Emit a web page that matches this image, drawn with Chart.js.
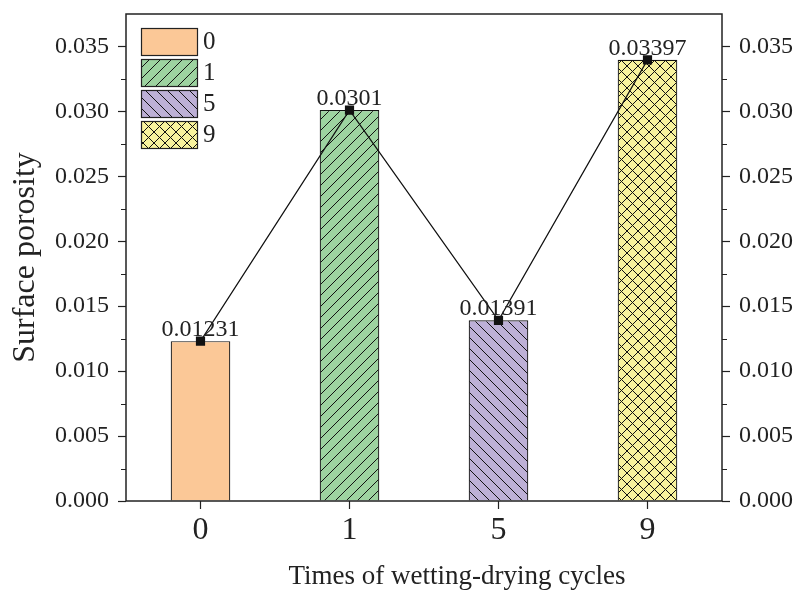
<!DOCTYPE html>
<html>
<head>
    <title>Surface porosity</title>
    <script src="https://cdn.jsdelivr.net/npm/chart.js"></script>
    <style>
        body { margin: 0; background: #fff; }
        #wrap { width: 796px; height: 590px; }
    </style>
</head>
<body>
    <div id="wrap"><canvas id="myChart"></canvas></div>
    <script>
        const cycles = ['0', '1', '5', '9'];
        const porosity = [0.01231, 0.0301, 0.01391, 0.03397];
        const majorTicks = [0, 0.005, 0.010, 0.015, 0.020, 0.025, 0.030, 0.035];
        const minorTicks = [0.0025, 0.0075, 0.0125, 0.0175, 0.0225, 0.0275, 0.0325];
        const fills = ['#fbc897', '#9dd3a0', '#bdb0d6', '#f8f39d'];
        const hatches = ['none', 'fwd', 'back', 'cross'];

        const FONT = '"Liberation Serif", "Times New Roman", Times, serif';
        const INK = '#222';

        // small repeating tile for the bar hatching
        function makePattern(color, kind) {
            const s = 11;
            const c = document.createElement('canvas');
            c.width = s; c.height = s;
            const g = c.getContext('2d');
            g.fillStyle = color;
            g.fillRect(0, 0, s, s);
            if (kind === 'none') return g.createPattern(c, 'repeat');
            g.strokeStyle = '#111';
            g.lineWidth = 1;
            g.beginPath();
            if (kind === 'fwd' || kind === 'cross') {
                g.moveTo(-1, s + 1); g.lineTo(s + 1, -1);
            }
            if (kind === 'back' || kind === 'cross') {
                g.moveTo(-1, -1); g.lineTo(s + 1, s + 1);
            }
            g.stroke();
            return g.createPattern(c, 'repeat');
        }
        const patterns = fills.map((f, i) => makePattern(f, hatches[i]));

        const framePlugin = {
            id: 'frame',
            afterDraw(chart) {
                const ctx = chart.ctx;
                const a = chart.chartArea;
                const y = chart.scales.y;
                ctx.save();
                // plot border
                ctx.strokeStyle = INK;
                ctx.lineWidth = 1.5;
                ctx.strokeRect(a.left, a.top, a.right - a.left, a.bottom - a.top);
                // minor ticks on both sides
                ctx.lineWidth = 1.2;
                ctx.beginPath();
                minorTicks.forEach(v => {
                    const py = Math.round(y.getPixelForValue(v)) + 0.5;
                    ctx.moveTo(a.left - 5, py); ctx.lineTo(a.left, py);
                    ctx.moveTo(a.right, py); ctx.lineTo(a.right + 5, py);
                });
                ctx.stroke();

                // value labels above the line points
                const meta = chart.getDatasetMeta(1);
                ctx.fillStyle = INK;
                ctx.font = '24px ' + FONT;
                ctx.textAlign = 'center';
                ctx.textBaseline = 'alphabetic';
                meta.data.forEach((pt, i) => {
                    ctx.fillText(String(porosity[i]), pt.x, pt.y - 5);
                });

                // legend inside the plot
                const lx = 141, bw = 56, bh = 27;
                const ly = [28, 59, 90, 121];
                ctx.font = '25px ' + FONT;
                ctx.textAlign = 'left';
                ctx.textBaseline = 'middle';
                cycles.forEach((c, i) => {
                    ctx.fillStyle = patterns[i];
                    ctx.fillRect(lx, ly[i], bw, bh);
                    ctx.strokeStyle = INK;
                    ctx.lineWidth = 1.2;
                    ctx.strokeRect(lx + 0.5, ly[i] + 0.5, bw, bh);
                    ctx.fillStyle = INK;
                    ctx.fillText(c, lx + bw + 6, ly[i] + bh / 2 + 1);
                });

                // x axis title
                ctx.font = '27px ' + FONT;
                ctx.textAlign = 'center';
                ctx.textBaseline = 'alphabetic';
                ctx.fillText('Times of wetting-drying cycles', 457, 584);
                ctx.restore();
            }
        };

        const yTicks = {
            color: INK,
            font: { family: FONT, size: 24 },
            padding: 9,
            callback: v => Number(v).toFixed(3)
        };
        const setTicks = scale => {
            scale.ticks = majorTicks.map(v => ({ value: v }));
        };
        const tickGrid = {
            drawOnChartArea: false,
            offset: false,
            tickLength: 8,
            tickColor: INK,
            tickWidth: 1.2
        };
        // fixed box sizes so the plot area lands where it should
        const fixBox = (w, h) => s => {
            if (w) s.width = w;
            if (h) s.height = h;
            s.paddingTop = 0; s.paddingBottom = 0;
            s.paddingLeft = 0; s.paddingRight = 0;
        };

        function drawChart() {
            const ctx = document.getElementById('myChart').getContext('2d');
            return new Chart(ctx, {
                data: {
                    labels: cycles,
                    datasets: [{
                        type: 'bar',
                        label: 'Surface porosity',
                        data: porosity,
                        backgroundColor: patterns,
                        borderColor: '#111',
                        borderWidth: 1.2,
                        barPercentage: 0.4,
                        categoryPercentage: 1,
                        order: 1,
                        yAxisID: 'y'
                    }, {
                        type: 'line',
                        label: 'trend',
                        data: porosity,
                        borderColor: '#111',
                        borderWidth: 1.2,
                        pointStyle: 'rect',
                        pointRadius: 6.5,
                        pointBackgroundColor: '#111',
                        pointBorderColor: '#111',
                        pointBorderWidth: 0,
                        tension: 0,
                        order: 0,
                        yAxisID: 'y'
                    }]
                },
                options: {
                    responsive: true,
                    maintainAspectRatio: false,
                    animation: false,
                    layout: { padding: { top: 14, right: 0, left: 0, bottom: 0 } },
                    plugins: {
                        legend: { display: false },
                        tooltip: { enabled: false }
                    },
                    scales: {
                        x: {
                            offset: true,
                            grid: tickGrid,
                            border: { display: false },
                            ticks: { color: INK, font: { family: FONT, size: 32 }, padding: 2 },
                            afterFit: fixBox(0, 89)
                        },
                        y: {
                            position: 'left',
                            min: 0,
                            max: 0.0375,
                            afterBuildTicks: setTicks,
                            grid: tickGrid,
                            border: { display: false },
                            ticks: yTicks,
                            title: {
                                display: true,
                                text: 'Surface porosity',
                                color: INK,
                                font: { family: FONT, size: 32 },
                                padding: { top: 6, bottom: 0 }
                            },
                            afterFit: fixBox(126, 0)
                        },
                        y2: {
                            position: 'right',
                            min: 0,
                            max: 0.0375,
                            afterBuildTicks: setTicks,
                            grid: tickGrid,
                            border: { display: false },
                            ticks: yTicks,
                            afterFit: fixBox(74, 0)
                        }
                    }
                },
                plugins: [framePlugin]
            });
        }

        document.fonts.load('24px "Liberation Serif"').then(drawChart, drawChart);
    </script>
</body>
</html>
